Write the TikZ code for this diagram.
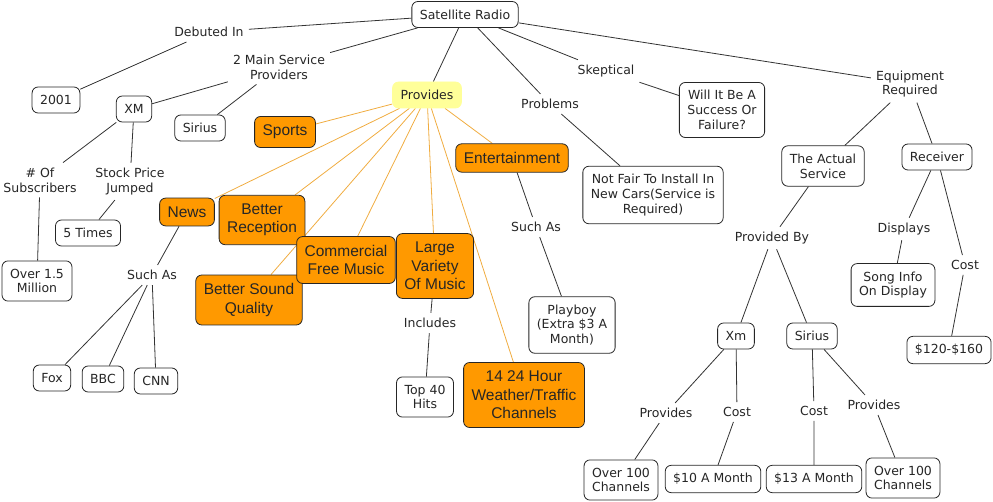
\documentclass[tikz,border=0pt]{standalone}
\usepackage{fontspec}
\setmainfont{DejaVu Sans}
\newfontfamily\arialfont{Liberation Sans}
\usepackage{tikz}
\usetikzlibrary{backgrounds}

\definecolor{hotfill}{HTML}{FF9900}
\definecolor{hotline}{RGB}{240,172,64}
\definecolor{softyellow}{HTML}{FFFF99}

\begin{document}
\begin{tikzpicture}[x=1pt,y=-1pt,
	concept/.style={draw=black!85, fill=white, rounded corners=6pt, line width=0.8pt,
		align=center, inner xsep=8pt, inner ysep=8pt, minimum height=26pt,
		text=black!85, font=\fontsize{12.5}{14.7}\selectfont},
	hot/.style={concept, fill=hotfill, inner ysep=8.5pt, minimum height=0pt,
		font=\arialfont\fontsize{15.5}{18.5}\selectfont},
	glow/.style={concept, draw=softyellow, fill=softyellow},
	phrase/.style={align=center, inner sep=5pt, text=black!85,
		font=\fontsize{12.5}{14.7}\selectfont},
	link/.style={draw=black!80, line width=0.8pt},
	hotlink/.style={draw=hotline, line width=0.8pt}]

	\useasboundingbox (0,0) rectangle (993,502);

	% top and left branch
	\node[concept] (radio) at (465,14.5) {Satellite Radio};
	\node[phrase] (debut) at (209,32) {Debuted In};
	\node[concept] (year) at (56,100) {2001};
	\node[phrase] (mainprov) at (279,67) {2 Main Service\\Providers};
	\node[concept] (xm) at (134,109) {XM};
	\node[concept] (sirius) at (200,128) {Sirius};
	\node[phrase] (subs) at (40,180) {\# Of\\Subscribers};
	\node[phrase] (stock) at (130,181.5) {Stock Price\\Jumped};
	\node[concept] (five) at (88,233) {5 Times};
	\node[concept] (million) at (37,281) {Over 1.5\\Million};

	% what it provides
	\node[glow] (provides) at (427,95) {Provides};
	\node[hot] (sports) at (285,132) {Sports};
	\node[hot] (news) at (187,212) {News};
	\node[hot] (reception) at (262,220) {Better\\Reception};
	\node[hot] (sound) at (249,300) {Better Sound\\Quality};
	\node[hot] (commercial) at (346,260) {Commercial\\Free Music};
	\node[hot] (variety) at (435,266) {Large\\Variety\\Of Music};
	\node[hot] (weather) at (524,395) {14 24 Hour\\Weather/Traffic\\Channels};
	\node[hot] (entertain) at (512,158) {Entertainment};
	\node[phrase] (suchnews) at (152,275) {Such As};
	\node[concept] (fox) at (52,378) {Fox};
	\node[concept] (bbc) at (103,379) {BBC};
	\node[concept] (cnn) at (156,381) {CNN};
	\node[phrase] (includes) at (430,323) {Includes};
	\node[concept] (top) at (425,397) {Top 40\\Hits};
	\node[phrase] (suchent) at (536,227) {Such As};
	\node[concept] (playboy) at (572,325) {Playboy\\(Extra \$3 A\\Month)};

	% problems and doubts
	\node[phrase] (problems) at (550,104) {Problems};
	\node[concept] (unfair) at (653,195) {Not Fair To Install In\\New Cars(Service is\\Required)};
	\node[phrase] (skeptic) at (606,71) {Skeptical};
	\node[concept] (success) at (722,110) {Will It Be A\\Success Or\\Failure?};

	% equipment
	\node[phrase] (equip) at (910,84) {Equipment\\Required};
	\node[concept] (service) at (823,166) {The Actual\\Service};
	\node[concept] (receiver) at (937,157) {Receiver};
	\node[phrase] (provby) at (772,238) {Provided By};
	\node[phrase] (displays) at (904,229) {Displays};
	\node[phrase] (costrec) at (965,265) {Cost};
	\node[concept] (songinfo) at (893,285) {Song Info\\On Display};
	\node[concept] (price) at (949,350) {\$120-\$160};
	\node[concept] (xmb) at (736,336) {Xm};
	\node[concept] (siriusb) at (812,336) {Sirius};
	\node[phrase] (provxm) at (666,413) {Provides};
	\node[phrase] (costxm) at (737,412) {Cost};
	\node[phrase] (costsir) at (814,411) {Cost};
	\node[phrase] (provsir) at (874,405) {Provides};
	\node[concept] (chanxm) at (621,480) {Over 100\\Channels};
	\node[concept] (tenmonth) at (713,479) {\$10 A Month};
	\node[concept] (thirteen) at (814,479) {\$13 A Month};
	\node[concept] (chansir) at (903,478) {Over 100\\Channels};

	\begin{pgfonlayer}{background}
	\draw[link] (radio) -- (debut) -- (year);
	\draw[link] (radio) -- (mainprov) -- (xm);
	\draw[link] (mainprov) -- (sirius);
	\draw[link] (xm) -- (subs) -- (million);
	\draw[link] (xm) -- (stock) -- (five);
	\draw[link] (radio) -- (provides);
	\draw[link] (radio) -- (problems) -- (unfair);
	\draw[link] (radio) -- (skeptic) -- (success);
	\draw[link] (radio) -- (equip) -- (service);
	\draw[link] (equip) -- (receiver);

	\draw[hotlink] (provides) -- (sports);
	\draw[hotlink] (provides) -- (news);
	\draw[hotlink] (provides) -- (reception);
	\draw[hotlink] (provides) -- (sound);
	\draw[hotlink] (provides) -- (commercial);
	\draw[hotlink] (provides) -- (variety);
	\draw[hotlink] (provides) -- (weather);
	\draw[hotlink] (provides) -- (entertain);

	\draw[link] (news) -- (suchnews) -- (fox);
	\draw[link] (suchnews) -- (bbc);
	\draw[link] (suchnews) -- (cnn);
	\draw[link] (variety) -- (includes) -- (top);
	\draw[link] (entertain) -- (suchent) -- (playboy);

	\draw[link] (service) -- (provby) -- (xmb);
	\draw[link] (provby) -- (siriusb);
	\draw[link] (xmb) -- (provxm) -- (chanxm);
	\draw[link] (xmb) -- (costxm) -- (tenmonth);
	\draw[link] (siriusb) -- (costsir) -- (thirteen);
	\draw[link] (siriusb) -- (provsir) -- (chansir);
	\draw[link] (receiver) -- (displays) -- (songinfo);
	\draw[link] (receiver) -- (costrec) -- (price);
	\end{pgfonlayer}

\end{tikzpicture}
\end{document}
